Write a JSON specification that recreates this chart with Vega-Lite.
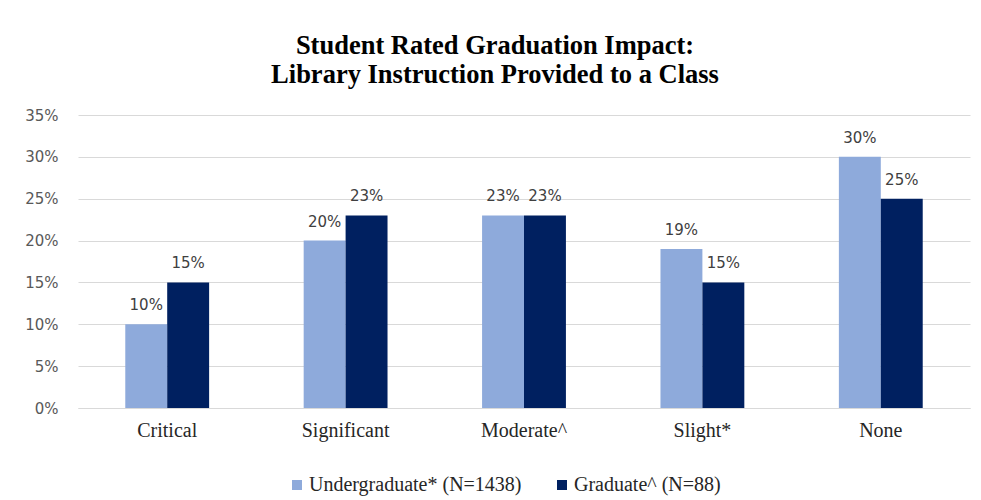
{
  "$schema": "https://vega.github.io/schema/vega-lite/v6.json",
  "width": 892,
  "height": 293,
  "autosize": {"type": "none"},
  "padding": {"left": 78, "top": 115, "right": 11, "bottom": 92},
  "background": "white",
  "config": {"view": {"stroke": null}},
  "title": {
    "text": ["Student Rated Graduation Impact:", "Library Instruction Provided to a Class"],
    "font": "Liberation Serif",
    "fontSize": 26.5,
    "fontWeight": "bold",
    "color": "#000000",
    "lineHeight": 29,
    "anchor": "middle",
    "dx": -29,
    "offset": 20
  },
  "data": {
    "values": [
      {"impact": "Critical", "group": "Undergraduate* (N=1438)", "pct": 0.10},
      {"impact": "Critical", "group": "Graduate^ (N=88)", "pct": 0.15},
      {"impact": "Significant", "group": "Undergraduate* (N=1438)", "pct": 0.20},
      {"impact": "Significant", "group": "Graduate^ (N=88)", "pct": 0.23},
      {"impact": "Moderate^", "group": "Undergraduate* (N=1438)", "pct": 0.23},
      {"impact": "Moderate^", "group": "Graduate^ (N=88)", "pct": 0.23},
      {"impact": "Slight*", "group": "Undergraduate* (N=1438)", "pct": 0.19},
      {"impact": "Slight*", "group": "Graduate^ (N=88)", "pct": 0.15},
      {"impact": "None", "group": "Undergraduate* (N=1438)", "pct": 0.30},
      {"impact": "None", "group": "Graduate^ (N=88)", "pct": 0.25}
    ]
  },
  "encoding": {
    "x": {
      "field": "impact",
      "type": "nominal",
      "sort": null,
      "scale": {"paddingInner": 0.53, "paddingOuter": 0.265},
      "axis": {
        "title": null,
        "labelAngle": 0,
        "labelFont": "Liberation Serif",
        "labelFontSize": 20,
        "labelColor": "#262626",
        "labelPadding": 12,
        "ticks": false,
        "domainColor": "#d9d9d9",
        "domainWidth": 1
      }
    },
    "xOffset": {
      "field": "group",
      "type": "nominal",
      "sort": ["Undergraduate* (N=1438)", "Graduate^ (N=88)"],
      "scale": {"paddingInner": 0, "paddingOuter": 0}
    },
    "y": {
      "field": "pct",
      "type": "quantitative",
      "scale": {"domain": [0, 0.35], "nice": false},
      "axis": {
        "title": null,
        "format": ".0%",
        "values": [0, 0.05, 0.1, 0.15, 0.2, 0.25, 0.3, 0.35],
        "labelFont": "DejaVu Sans",
        "labelFontSize": 15,
        "labelColor": "#595959",
        "labelPadding": 20,
        "ticks": false,
        "domain": false,
        "gridColor": "#d9d9d9",
        "gridWidth": 1
      }
    }
  },
  "layer": [
    {
      "mark": {"type": "bar"},
      "encoding": {
        "color": {
          "field": "group",
          "type": "nominal",
          "sort": ["Undergraduate* (N=1438)", "Graduate^ (N=88)"],
          "scale": {"domain": ["Undergraduate* (N=1438)", "Graduate^ (N=88)"], "range": ["#8eaadb", "#002060"]},
          "legend": {
            "title": null,
            "orient": "none",
            "legendX": 209,
            "legendY": 360,
            "direction": "horizontal",
            "symbolType": "square",
            "symbolSize": 100,
            "symbolStrokeWidth": 0,
            "labelFont": "Liberation Serif",
            "labelFontSize": 20,
            "labelColor": "#262626",
            "labelLimit": 400,
            "columnPadding": 30,
            "labelOffset": 2
          }
        }
      }
    },
    {
      "mark": {"type": "text", "baseline": "bottom", "dy": -11, "font": "DejaVu Sans", "fontSize": 15, "color": "#404040"},
      "encoding": {
        "text": {"field": "pct", "type": "quantitative", "format": ".0%"}
      }
    }
  ]
}
